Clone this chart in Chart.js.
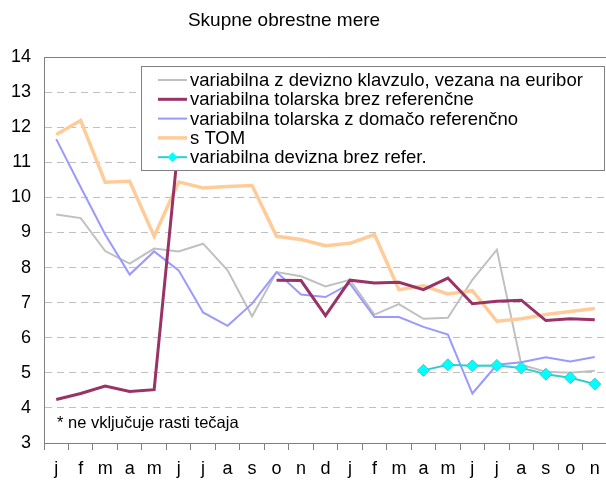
<!DOCTYPE html>
<html>
<head>
<meta charset="utf-8">
<script src="https://cdn.jsdelivr.net/npm/chart.js@4/dist/chart.umd.min.js"></script>
<style>
	html, body { margin: 0; padding: 0; background: #ffffff; overflow: hidden; }
	#wrap { width: 614px; height: 481px; position: relative; }
</style>
</head>
<body>
<div id="wrap"><canvas id="myChart"></canvas></div>
<script>
// meseci (dve leti, zadnje leto do novembra)
const months = ['j','f','m','a','m','j','j','a','s','o','n','d','j','f','m','a','m','j','j','a','s','o','n'];

// serije obrestnih mer (%)
const devKlavzula = [9.51, 9.41, 8.47, 8.11, 8.54, 8.46, 8.68, 7.92, 6.61, 7.87, 7.75, 7.46, 7.65, 6.66, 6.96, 6.54, 6.57, 7.65, 8.51, 5.23, 5.03, 5.00, 5.06];
const tolBrezRef = [4.24, 4.41, 4.62, 4.47, 4.52, 11.6, null, null, null, 7.64, 7.63, 6.63, 7.64, 7.56, 7.58, 7.37, 7.70, 6.97, 7.04, 7.07, 6.49, 6.54, 6.51];
const tolDomRef = [11.66, 10.29, 8.94, 7.80, 8.46, 7.92, 6.72, 6.34, 6.97, 7.87, 7.23, 7.16, 7.54, 6.59, 6.59, 6.31, 6.09, 4.41, 5.23, 5.30, 5.44, 5.32, 5.45];
const sTom = [11.79, 12.19, 10.43, 10.46, 8.89, 10.44, 10.27, 10.31, 10.34, 8.89, 8.80, 8.62, 8.69, 8.94, 7.37, 7.48, 7.25, 7.34, 6.47, 6.54, 6.66, 6.75, 6.83];
const devBrezRef = [null, null, null, null, null, null, null, null, null, null, null, null, null, null, null, 5.07, 5.23, 5.20, 5.21, 5.14, 4.96, 4.86, 4.68];

const yTicks = [3, 4, 5, 6, 7, 8, 9, 10, 11, 12, 13, 14];

const seriesNames = [
	'variabilna z devizno klavzulo, vezana na euribor',
	'variabilna tolarska brez referenčne',
	'variabilna tolarska z domačo referenčno',
	's TOM',
	'variabilna devizna brez refer.'
];

const chartTitle = 'Skupne obrestne mere';
const footNote = '* ne vključuje rasti tečaja';

const FONT = 'Liberation Sans, Arial, sans-serif';

// naslov, opomba in okvir zgoraj
const decorPlugin = {
	id: 'decor',
	beforeDatasetsDraw(chart) {
		const { ctx, chartArea } = chart;
		ctx.save();
		ctx.strokeStyle = '#808080';
		ctx.lineWidth = 1;
		ctx.beginPath();
		ctx.moveTo(chartArea.left, Math.round(chartArea.top) + 0.5);
		ctx.lineTo(chartArea.right, Math.round(chartArea.top) + 0.5);
		ctx.stroke();
		ctx.restore();
	},
	afterDraw(chart) {
		const { ctx } = chart;
		ctx.save();
		ctx.fillStyle = '#000000';
		ctx.textBaseline = 'middle';
		ctx.textAlign = 'center';
		ctx.font = '19px ' + FONT;
		ctx.fillText(chartTitle, 284, 21);
		ctx.textAlign = 'left';
		ctx.font = '16.5px ' + FONT;
		ctx.fillText(footNote, 57, 423);
		ctx.restore();
	}
};

// legenda v okvirju znotraj grafa
const boxLegendPlugin = {
	id: 'boxLegend',
	afterDatasetsDraw(chart) {
		const { ctx } = chart;
		const box = { x: 141, y: 66, w: 463, h: 104 };
		ctx.save();
		ctx.fillStyle = '#ffffff';
		ctx.fillRect(box.x, box.y, box.w, box.h);
		ctx.strokeStyle = '#808080';
		ctx.lineWidth = 1;
		ctx.strokeRect(box.x + 0.5, box.y + 0.5, box.w, box.h);

		ctx.font = '18.5px ' + FONT;
		ctx.textBaseline = 'middle';
		chart.data.datasets.forEach((ds, i) => {
			const y = 80 + i * 19.3;
			ctx.strokeStyle = ds.borderColor;
			ctx.lineWidth = ds.borderWidth;
			ctx.beginPath();
			ctx.moveTo(158, y);
			ctx.lineTo(187, y);
			ctx.stroke();
			if (ds.pointRadius > 0) {
				const r = 5;
				ctx.fillStyle = ds.pointBackgroundColor;
				ctx.beginPath();
				ctx.moveTo(172.5, y - r);
				ctx.lineTo(172.5 + r, y);
				ctx.lineTo(172.5, y + r);
				ctx.lineTo(172.5 - r, y);
				ctx.closePath();
				ctx.fill();
			}
			ctx.fillStyle = '#000000';
			ctx.fillText(ds.label, 190, y + 1);
		});
		ctx.restore();
	}
};

const ChartPage = {
	chartInstance: null,

	init: function() {
		this.renderChart('myChart');
	},

	renderChart: function(chartId) {
		const ctx = document.getElementById(chartId);
		if (!ctx) return;

		const lineDs = (label, data, color, width, order) => ({
			label: label,
			data: data,
			borderColor: color,
			backgroundColor: color,
			borderWidth: width,
			pointRadius: 0,
			tension: 0,
			spanGaps: false,
			order: order
		});

		const datasets = [
			lineDs(seriesNames[0], devKlavzula, '#c0c0c0', 2, 5),
			lineDs(seriesNames[1], tolBrezRef, '#993366', 3, 2),
			lineDs(seriesNames[2], tolDomRef, '#9999ff', 2, 4),
			lineDs(seriesNames[3], sTom, '#ffcc99', 3.5, 3),
			Object.assign(lineDs(seriesNames[4], devBrezRef, '#33cccc', 2, 1), {
				pointRadius: 6,
				pointHoverRadius: 6,
				pointStyle: 'rectRot',
				pointBackgroundColor: '#00ffff',
				pointBorderColor: '#33cccc',
				pointBorderWidth: 1
			})
		];

		this.chartInstance = new Chart(ctx, {
			type: 'line',
			data: { labels: months, datasets: datasets },
			plugins: [decorPlugin, boxLegendPlugin],
			options: {
				responsive: true,
				maintainAspectRatio: false,
				animation: false,
				layout: { padding: { top: 57, right: 3, left: 0, bottom: 0 } },
				plugins: {
					legend: { display: false },
					title: { display: false },
					tooltip: { enabled: false }
				},
				scales: {
					x: {
						offset: true,
						grid: {
							offset: true,
							drawOnChartArea: false,
							drawTicks: true,
							tickLength: 7,
							tickColor: '#808080'
						},
						border: { color: '#808080', width: 1 },
						ticks: {
							color: '#000000',
							font: { family: FONT, size: 18 },
							padding: 8,
							maxRotation: 0,
							autoSkip: false
						},
						afterFit: (scale) => { scale.height = 38; }
					},
					y: {
						min: 3,
						max: 14,
						afterBuildTicks: (scale) => { scale.ticks = yTicks.map(v => ({ value: v })); },
						grid: {
							color: '#c0c0c0',
							lineWidth: 1,
							drawTicks: false
						},
						border: { color: '#808080', width: 1, dash: [7, 5] },
						ticks: {
							color: '#000000',
							font: { family: FONT, size: 18 },
							padding: 13
						},
						afterFit: (scale) => { scale.width = 44; }
					}
				}
			}
		});
	}
};

ChartPage.init();
</script>
</body>
</html>
